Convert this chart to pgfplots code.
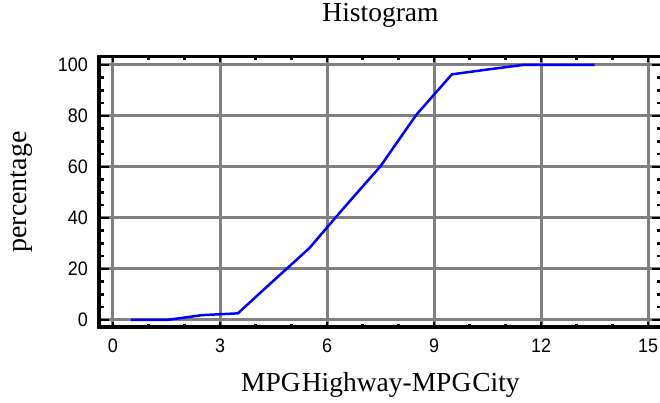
\documentclass[border=0pt]{standalone}
\usepackage{fontspec}
\setmainfont{Liberation Serif}
\newfontfamily\sansf[FakeStretch=0.92]{Liberation Sans}
\usepackage{pgfplots}
\pgfplotsset{compat=1.18}
\definecolor{gridgray}{RGB}{128,128,128}
\definecolor{lineblue}{RGB}{0,0,255}
\pgfplotstableread{
x y
0.5 0
1.5 0
2.5 1.9
3.5 2.6
4.5 15.4
5.5 28.1
6.5 44.4
7.5 60.3
8.5 80.4
9.5 96.3
10.5 98.2
11.5 100
12.5 100
13.5 100
}\cumdata
\begin{document}
\begin{tikzpicture}
\pgfplotsset{
  common/.style={
    scale only axis, width=563bp, height=270bp,
    xmin=-0.392, xmax=15.39, ymin=-2.75, ymax=103.1,
    xtick={0,3,...,15}, ytick={0,20,...,100},
    tick align=inside,
  }
}
\begin{axis}[common,
  axis line style={draw=none},
  major tick length=0pt, minor tick length=0pt,
  grid=major, major grid style={gridgray, line width=3bp},
  ticklabel style={font=\sansf\fontsize{19.5bp}{21bp}\selectfont},
  /pgf/number format/assume math mode=true,
  yticklabel style={inner sep=0pt, xshift=-11bp},
  xticklabel style={inner sep=0pt, yshift=-12bp},
  title=Histogram,
  title style={font=\fontsize{27.5bp}{30bp}\selectfont, at={(0.5,1.111)}, anchor=base, inner sep=0pt},
  xlabel={\spaceskip=1bp\relax MPG Highway-MPG City},
  xlabel style={font=\fontsize{27.5bp}{30bp}\selectfont, at={(0.5,-0.2407)}, anchor=base, inner sep=0pt},
  ylabel=percentage,
  ylabel style={font=\fontsize{28bp}{30bp}\selectfont, at={(-0.1368,0.5)}, anchor=center, inner sep=0pt},
]
\addplot[lineblue, line width=2.5bp, no marks] table[x=x,y=y] {\cumdata};
\end{axis}
\begin{axis}[common,
  axis line style={draw=none},
  ytick=\empty, xticklabels={},
  minor x tick num=2,
  major tick length=5bp, minor tick length=3bp,
  tick style={black, line width=2.5bp},
]
\end{axis}
\begin{axis}[common,
  axis line style={black, line width=3bp},
  xtick=\empty, yticklabels={},
  minor y tick num=3,
  major tick length=10bp, minor tick length=5bp,
  tick style={black, line width=2.5bp},
]
\end{axis}
\pgfresetboundingbox
\path[use as bounding box] (-99bp,-76bp) rectangle (561bp,327bp);
\end{tikzpicture}
\end{document}
